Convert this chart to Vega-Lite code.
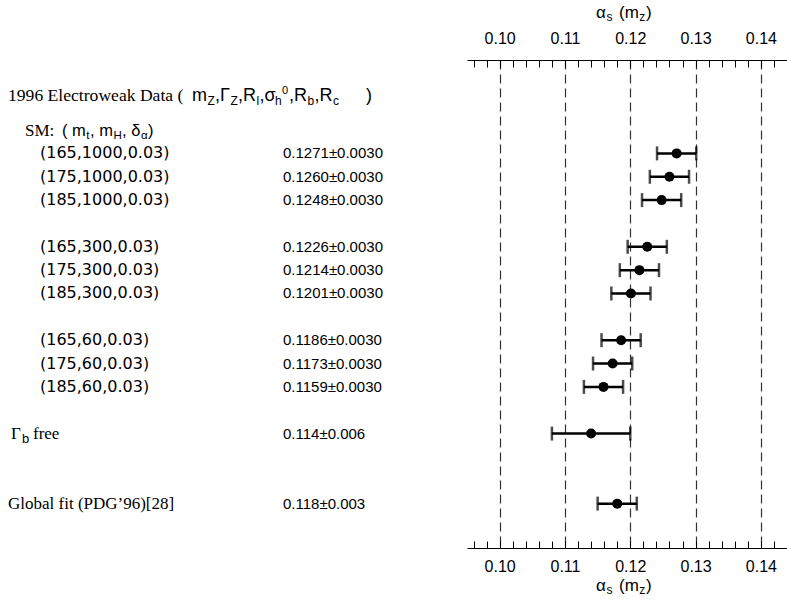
{
  "$schema": "https://vega.github.io/schema/vega-lite/v6.json",
  "background": "white",
  "padding": {"left": 0, "right": 0, "top": 4, "bottom": 0},
  "config": {
    "view": {"stroke": null},
    "concat": {"spacing": 0},
    "axis": {"labelFont": "Liberation Sans", "labelFontSize": 16, "labelColor": "black", "domainColor": "black", "tickColor": "black", "domainWidth": 1, "tickWidth": 1}
  },
  "datasets": {
    "points": [
      {"row": 0, "value": 0.1271, "err": 0.003},
      {"row": 1, "value": 0.1260, "err": 0.003},
      {"row": 2, "value": 0.1248, "err": 0.003},
      {"row": 4, "value": 0.1226, "err": 0.003},
      {"row": 5, "value": 0.1214, "err": 0.003},
      {"row": 6, "value": 0.1201, "err": 0.003},
      {"row": 8, "value": 0.1186, "err": 0.003},
      {"row": 9, "value": 0.1173, "err": 0.003},
      {"row": 10, "value": 0.1159, "err": 0.003},
      {"row": 12, "value": 0.114, "err": 0.006},
      {"row": 15, "value": 0.118, "err": 0.003}
    ],
    "tparts": [
      {"row": -6.01, "ax": 0.11476, "kind": "main", "text": "α"},
      {"row": -6.01, "ax": 0.11637, "kind": "sub", "text": "s"},
      {"row": -6.01, "ax": 0.11828, "kind": "main", "text": "(m"},
      {"row": -6.01, "ax": 0.12139, "kind": "sub", "text": "z"},
      {"row": -6.01, "ax": 0.12241, "kind": "main", "text": ")"},
      {"row": 18.53, "ax": 0.11476, "kind": "main", "text": "α"},
      {"row": 18.53, "ax": 0.11637, "kind": "sub", "text": "s"},
      {"row": 18.53, "ax": 0.11828, "kind": "main", "text": "(m"},
      {"row": 18.53, "ax": 0.12139, "kind": "sub", "text": "z"},
      {"row": 18.53, "ax": 0.12241, "kind": "main", "text": ")"}
    ],
    "segs": [
      {"row": -6.01, "pos": 0, "kind": "ghost", "text": "α"},
      {"row": -2.45, "pos": 8, "kind": "hserif", "text": "1996 Electroweak Data ("},
      {"row": -2.45, "pos": 192, "kind": "hsans", "text": "m"},
      {"row": -2.45, "pos": 207.5, "kind": "hsub", "text": "Z"},
      {"row": -2.45, "pos": 215, "kind": "hsans", "text": ",Γ"},
      {"row": -2.45, "pos": 230.5, "kind": "hsub", "text": "Z"},
      {"row": -2.45, "pos": 238, "kind": "hsans", "text": ",R"},
      {"row": -2.45, "pos": 256.5, "kind": "hsub", "text": "l"},
      {"row": -2.45, "pos": 259.5, "kind": "hsans", "text": ",σ"},
      {"row": -2.45, "pos": 275, "kind": "hsub", "text": "h"},
      {"row": -2.45, "pos": 282, "kind": "hsup", "text": "0"},
      {"row": -2.45, "pos": 289, "kind": "hsans", "text": ",R"},
      {"row": -2.45, "pos": 307.5, "kind": "hsub", "text": "b"},
      {"row": -2.45, "pos": 314.5, "kind": "hsans", "text": ",R"},
      {"row": -2.45, "pos": 333, "kind": "hsub", "text": "c"},
      {"row": -2.45, "pos": 366, "kind": "hsans", "text": ")"},
      {"row": -0.97, "pos": 25, "kind": "serif", "text": "SM:"},
      {"row": -0.97, "pos": 62, "kind": "msans", "text": "( m"},
      {"row": -0.97, "pos": 86.3, "kind": "msub", "text": "t"},
      {"row": -0.97, "pos": 90, "kind": "msans", "text": ", m"},
      {"row": -0.97, "pos": 113.4, "kind": "msub", "text": "H"},
      {"row": -0.97, "pos": 122, "kind": "msans", "text": ", δ"},
      {"row": -0.97, "pos": 141, "kind": "msub", "text": "α"},
      {"row": -0.97, "pos": 148, "kind": "msans", "text": ")"},
      {"row": 0, "pos": 40, "kind": "lab", "text": "(165,1000,0.03)"},
      {"row": 0, "pos": 283, "kind": "sans", "text": "0.1271±0.0030"},
      {"row": 1, "pos": 40, "kind": "lab", "text": "(175,1000,0.03)"},
      {"row": 1, "pos": 283, "kind": "sans", "text": "0.1260±0.0030"},
      {"row": 2, "pos": 40, "kind": "lab", "text": "(185,1000,0.03)"},
      {"row": 2, "pos": 283, "kind": "sans", "text": "0.1248±0.0030"},
      {"row": 4, "pos": 40, "kind": "lab", "text": "(165,300,0.03)"},
      {"row": 4, "pos": 283, "kind": "sans", "text": "0.1226±0.0030"},
      {"row": 5, "pos": 40, "kind": "lab", "text": "(175,300,0.03)"},
      {"row": 5, "pos": 283, "kind": "sans", "text": "0.1214±0.0030"},
      {"row": 6, "pos": 40, "kind": "lab", "text": "(185,300,0.03)"},
      {"row": 6, "pos": 283, "kind": "sans", "text": "0.1201±0.0030"},
      {"row": 8, "pos": 40, "kind": "lab", "text": "(165,60,0.03)"},
      {"row": 8, "pos": 283, "kind": "sans", "text": "0.1186±0.0030"},
      {"row": 9, "pos": 40, "kind": "lab", "text": "(175,60,0.03)"},
      {"row": 9, "pos": 283, "kind": "sans", "text": "0.1173±0.0030"},
      {"row": 10, "pos": 40, "kind": "lab", "text": "(185,60,0.03)"},
      {"row": 10, "pos": 283, "kind": "sans", "text": "0.1159±0.0030"},
      {"row": 12, "pos": 11, "kind": "serif", "text": "Γ"},
      {"row": 12, "pos": 22, "kind": "bsub", "text": "b"},
      {"row": 12, "pos": 33, "kind": "serif", "text": "free"},
      {"row": 12, "pos": 283, "kind": "sans", "text": "0.114±0.006"},
      {"row": 15, "pos": 8, "kind": "serif", "text": "Global fit (PDG’96)[28]"},
      {"row": 15, "pos": 283, "kind": "sans", "text": "0.118±0.003"}
    ]
  },
  "hconcat": [
    {
      "width": 467,
      "height": 488,
      "data": {"name": "segs"},
      "encoding": {
        "x": {"field": "pos", "type": "quantitative", "scale": {"domain": [0, 467], "nice": false, "zero": false}, "axis": null},
        "y": {"field": "row", "type": "quantitative", "scale": {"domain": [-4, 16.9], "reverse": true, "nice": false, "zero": false}, "axis": null},
        "text": {"field": "text"}
      },
      "layer": [
        {"transform": [{"filter": "datum.kind === 'ghost'"}], "mark": {"type": "text", "align": "left", "baseline": "middle", "font": "Liberation Sans", "fontSize": 17, "opacity": 0}},
        {"transform": [{"filter": "datum.kind === 'hserif'"}], "mark": {"type": "text", "align": "left", "baseline": "middle", "font": "Liberation Serif", "fontSize": 17.6, "color": "black"}},
        {"transform": [{"filter": "datum.kind === 'hsans'"}], "mark": {"type": "text", "align": "left", "baseline": "middle", "font": "Liberation Sans", "fontSize": 18, "color": "black"}},
        {"transform": [{"filter": "datum.kind === 'hsub'"}], "mark": {"type": "text", "align": "left", "baseline": "middle", "font": "Liberation Sans", "fontSize": 12, "dy": 5, "color": "black"}},
        {"transform": [{"filter": "datum.kind === 'hsup'"}], "mark": {"type": "text", "align": "left", "baseline": "middle", "font": "Liberation Sans", "fontSize": 11, "dy": -5, "color": "black"}},
        {"transform": [{"filter": "datum.kind === 'serif'"}], "mark": {"type": "text", "align": "left", "baseline": "middle", "font": "Liberation Serif", "fontSize": 17, "color": "black"}},
        {"transform": [{"filter": "datum.kind === 'msans'"}], "mark": {"type": "text", "align": "left", "baseline": "middle", "font": "Liberation Sans", "fontSize": 16.5, "color": "black"}},
        {"transform": [{"filter": "datum.kind === 'msub'"}], "mark": {"type": "text", "align": "left", "baseline": "middle", "font": "Liberation Sans", "fontSize": 11.5, "dy": 5, "color": "black"}},
        {"transform": [{"filter": "datum.kind === 'lab'"}], "mark": {"type": "text", "align": "left", "baseline": "middle", "font": "DejaVu Sans", "fontSize": 16, "color": "black"}},
        {"transform": [{"filter": "datum.kind === 'sans'"}], "mark": {"type": "text", "align": "left", "baseline": "middle", "font": "Liberation Sans", "fontSize": 15, "color": "black"}},
        {"transform": [{"filter": "datum.kind === 'bsub'"}], "mark": {"type": "text", "align": "left", "baseline": "middle", "font": "Liberation Sans", "fontSize": 13, "dy": 5, "color": "black"}}
      ]
    },
    {
      "width": 320,
      "height": 488,
      "layer": [
        {
          "data": {"name": "points"},
          "mark": {"type": "errorbar", "color": "black", "thickness": 2.5, "ticks": {"size": 14, "thickness": 2.5, "color": "black"}},
          "encoding": {
            "x": {
              "field": "value", "type": "quantitative",
              "scale": {"domain": [0.095, 0.144], "nice": false, "zero": false},
              "axis": {
                "orient": "bottom", "title": null, "grid": false,
                "values": [0.096, 0.098, 0.1, 0.102, 0.104, 0.106, 0.108, 0.11, 0.112, 0.114, 0.116, 0.118, 0.12, 0.122, 0.124, 0.126, 0.128, 0.13, 0.132, 0.134, 0.136, 0.138, 0.14, 0.142, 0.144],
                "labelExpr": "abs(datum.value*100 - round(datum.value*100)) < 0.01 ? format(datum.value, '.2f') : ''",
                "tickSize": -7, "labelPadding": 17, "labelOverlap": false, "labelFlush": false
              }
            },
            "xError": {"field": "err"},
            "y": {"field": "row", "type": "quantitative", "scale": {"domain": [-4, 16.9], "reverse": true, "nice": false, "zero": false}, "axis": null}
          }
        },
        {
          "data": {"name": "points"},
          "mark": {"type": "circle", "size": 100, "color": "black", "opacity": 1},
          "encoding": {
            "x": {
              "field": "value", "type": "quantitative",
              "axis": {
                "orient": "top", "title": null,
                "values": [0.096, 0.098, 0.1, 0.102, 0.104, 0.106, 0.108, 0.11, 0.112, 0.114, 0.116, 0.118, 0.12, 0.122, 0.124, 0.126, 0.128, 0.13, 0.132, 0.134, 0.136, 0.138, 0.14, 0.142, 0.144],
                "labelExpr": "abs(datum.value*100 - round(datum.value*100)) < 0.01 ? format(datum.value, '.2f') : ''",
                "tickSize": -7, "labelPadding": 21, "labelOverlap": false, "labelFlush": false,
                "grid": true, "gridDash": [9, 5], "gridColor": "#333333", "gridWidth": 1.2,
                "gridOpacity": {"condition": {"test": "abs(datum.value*100 - round(datum.value*100)) < 0.01", "value": 1}, "value": 0}
              }
            },
            "y": {"field": "row", "type": "quantitative", "axis": null}
          }
        },
        {
          "data": {"name": "tparts"},
          "transform": [{"filter": "datum.kind === 'main'"}],
          "mark": {"type": "text", "align": "left", "baseline": "middle", "font": "Liberation Sans", "fontSize": 17, "color": "black"},
          "encoding": {
            "x": {"field": "ax", "type": "quantitative", "axis": null},
            "y": {"field": "row", "type": "quantitative", "axis": null},
            "text": {"field": "text"}
          }
        },
        {
          "data": {"name": "tparts"},
          "transform": [{"filter": "datum.kind === 'sub'"}],
          "mark": {"type": "text", "align": "left", "baseline": "middle", "font": "Liberation Sans", "fontSize": 12, "dy": 4, "color": "black"},
          "encoding": {
            "x": {"field": "ax", "type": "quantitative", "axis": null},
            "y": {"field": "row", "type": "quantitative", "axis": null},
            "text": {"field": "text"}
          }
        }
      ],
      "resolve": {"axis": {"x": "independent"}}
    }
  ]
}
